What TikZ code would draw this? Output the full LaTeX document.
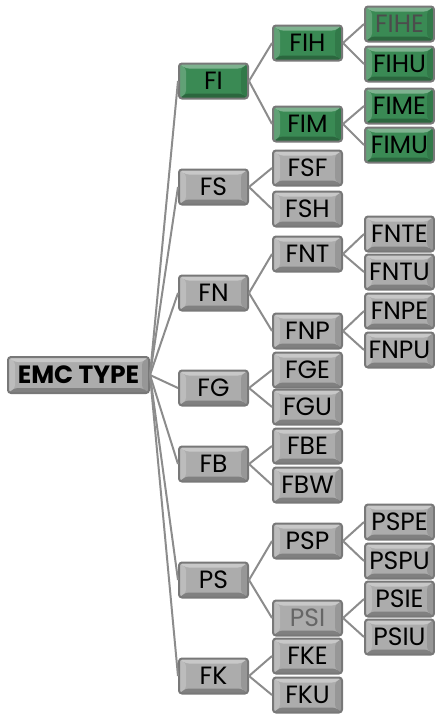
\documentclass[tikz,border=0pt]{standalone}
\usepackage{fontspec}
\setmainfont{Poppins}
\usepackage{tikz}
\usetikzlibrary{positioning}

\definecolor{boxgreen}{RGB}{58,138,84}
\definecolor{boxgray}{RGB}{172,172,172}
\definecolor{rimgray}{RGB}{120,120,120}
\definecolor{linegray}{RGB}{140,140,140}

\tikzset{
  bevel/.style={path picture={
    \fill[white,opacity=0.35] (path picture bounding box.north west) -- (path picture bounding box.north east)
      -- ([xshift=-7pt,yshift=-5pt]path picture bounding box.north east) -- ([xshift=7pt,yshift=-5pt]path picture bounding box.north west) -- cycle;
    \fill[black,opacity=0.25] (path picture bounding box.south west) -- (path picture bounding box.south east)
      -- ([xshift=-7pt,yshift=5pt]path picture bounding box.south east) -- ([xshift=7pt,yshift=5pt]path picture bounding box.south west) -- cycle;
    \fill[white,opacity=0.2] (path picture bounding box.north west) -- ([xshift=7pt,yshift=-5pt]path picture bounding box.north west)
      -- ([xshift=7pt,yshift=5pt]path picture bounding box.south west) -- (path picture bounding box.south west) -- cycle;
    \fill[black,opacity=0.12] (path picture bounding box.north east) -- ([xshift=-7pt,yshift=-5pt]path picture bounding box.north east)
      -- ([xshift=-7pt,yshift=5pt]path picture bounding box.south east) -- (path picture bounding box.south east) -- cycle;
  }},
  box/.style={draw=rimgray,line width=2pt,rounded corners=3pt,fill=boxgray,bevel,
    minimum width=69pt,minimum height=35pt,inner sep=0pt,font=\fontsize{25}{25}\selectfont},
  greenbox/.style={box,fill=boxgreen},
  rootbox/.style={box,minimum width=141pt,minimum height=36pt,font=\fontsize{25}{25}\selectfont\bfseries},
  conn/.style={draw=linegray,line width=2pt}
}

\begin{document}
\begin{tikzpicture}[x=1pt,y=-1pt]
  \useasboundingbox (0,0) rectangle (435,715);

  % root
  \node[rootbox] (root) at (78.5,375) {EMC TYPE};

  % first level
  \node[greenbox] (FI) at (213.5,81) {FI};
  \node[box] (FS) at (213.5,187) {FS};
  \node[box] (FN) at (213.5,293) {FN};
  \node[box] (FG) at (213.5,388) {FG};
  \node[box] (FB) at (213.5,464) {FB};
  \node[box] (PS) at (213.5,580) {PS};
  \node[box] (FK) at (213.5,676) {FK};

  % second level
  \node[greenbox] (FIH) at (307.5,43) {FIH};
  \node[greenbox] (FIM) at (307.5,124) {FIM};
  \node[box] (FSF) at (307.5,168) {FSF};
  \node[box] (FSH) at (307.5,209) {FSH};
  \node[box] (FNT) at (307.5,254) {FNT};
  \node[box] (FNP) at (307.5,331) {FNP};
  \node[box] (FGE) at (307.5,370) {FGE};
  \node[box] (FGU) at (307.5,407) {FGU};
  \node[box] (FBE) at (307.5,446) {FBE};
  \node[box] (FBW) at (307.5,485) {FBW};
  \node[box] (PSP) at (307.5,541) {PSP};
  \node[box,text=black!60] (PSI) at (307.5,618) {PSI};
  \node[box] (FKE) at (307.5,656) {FKE};
  \node[box] (FKU) at (307.5,695) {FKU};

  % third level
  \node[greenbox,text=black!70] (FIHE) at (399.5,24) {FIHE};
  \node[greenbox] (FIHU) at (399.5,64) {FIHU};
  \node[greenbox] (FIME) at (399.5,106) {FIME};
  \node[greenbox] (FIMU) at (399.5,145) {FIMU};
  \node[box] (FNTE) at (399.5,234) {FNTE};
  \node[box] (FNTU) at (399.5,272) {FNTU};
  \node[box] (FNPE) at (399.5,311) {FNPE};
  \node[box] (FNPU) at (399.5,350) {FNPU};
  \node[box] (PSPE) at (399.5,522) {PSPE};
  \node[box] (PSPU) at (399.5,561) {PSPU};
  \node[box] (PSIE) at (399.5,599) {PSIE};
  \node[box] (PSIU) at (399.5,637) {PSIU};

  \path[conn]
  (root.east) edge (FI.west)
  (root.east) edge (FS.west)
  (root.east) edge (FN.west)
  (root.east) edge (FG.west)
  (root.east) edge (FB.west)
  (root.east) edge (PS.west)
  (root.east) edge (FK.west)
  (FI.east) edge (FIH.west)
  (FI.east) edge (FIM.west)
  (FS.east) edge (FSF.west)
  (FS.east) edge (FSH.west)
  (FN.east) edge (FNT.west)
  (FN.east) edge (FNP.west)
  (FG.east) edge (FGE.west)
  (FG.east) edge (FGU.west)
  (FB.east) edge (FBE.west)
  (FB.east) edge (FBW.west)
  (PS.east) edge (PSP.west)
  (PS.east) edge (PSI.west)
  (FK.east) edge (FKE.west)
  (FK.east) edge (FKU.west)
  (FIH.east) edge (FIHE.west)
  (FIH.east) edge (FIHU.west)
  (FIM.east) edge (FIME.west)
  (FIM.east) edge (FIMU.west)
  (FNT.east) edge (FNTE.west)
  (FNT.east) edge (FNTU.west)
  (FNP.east) edge (FNPE.west)
  (FNP.east) edge (FNPU.west)
  (PSP.east) edge (PSPE.west)
  (PSP.east) edge (PSPU.west)
  (PSI.east) edge (PSIE.west)
  (PSI.east) edge (PSIU.west);

\end{tikzpicture}
\end{document}
